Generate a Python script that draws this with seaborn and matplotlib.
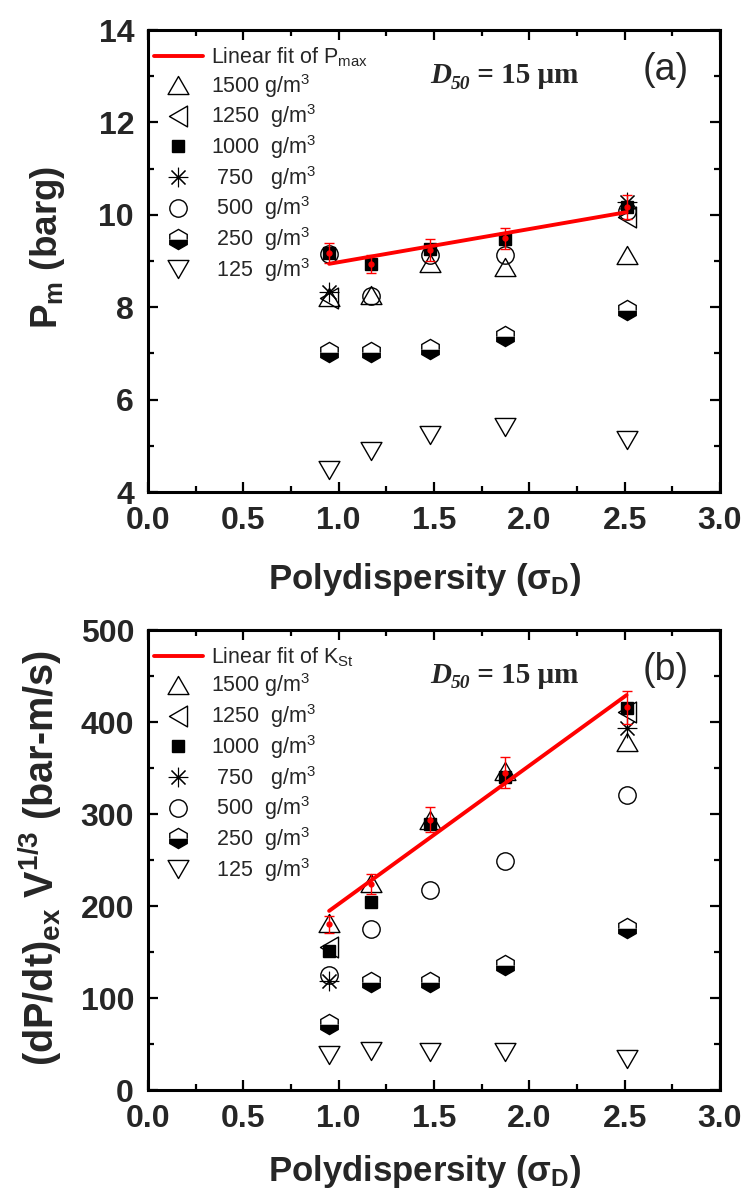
import numpy as np
import pandas as pd
import matplotlib
matplotlib.use("Agg")
import matplotlib.pyplot as plt
import seaborn as sns
from matplotlib.path import Path
from matplotlib.ticker import MultipleLocator, FormatStrFormatter

nan = np.nan

# ---------------- data ----------------
sigma = [0.95, 1.17, 1.48, 1.87, 2.51]
x_ticks = [0.0, 0.5, 1.0, 1.5, 2.0, 2.5, 3.0]
ticks_a = [4, 6, 8, 10, 12, 14]
ticks_b = [0, 100, 200, 300, 400, 500]

conc_labels = ["1500 g/m$^3$", "1250  g/m$^3$", "1000  g/m$^3$", " 750   g/m$^3$",
               " 500  g/m$^3$", " 250  g/m$^3$", " 125  g/m$^3$"]

# panel (a): Pm (barg)
pm_1500 = [8.22, 8.27, 8.95, 8.86, 9.13]
pm_1250 = [8.20, nan, nan, nan, 9.95]
pm_1000 = [9.17, 8.93, 9.26, 9.48, 10.17]
pm_750 = [8.32, nan, nan, nan, 10.28]
pm_500 = [9.15, 8.24, 9.13, 9.13, 10.09]
pm_250 = [7.02, 7.03, 7.10, 7.37, 7.93]
pm_125 = [4.47, 4.88, 5.24, 5.41, 5.12]
pmax_mean = [9.17, 8.94, 9.24, 9.49, 10.17]
pmax_err = [0.22, 0.20, 0.24, 0.23, 0.26]

# panel (b): (dP/dt)ex V^1/3 (bar-m/s)
k_1500 = [182, 225, 293, 347, 378]
k_1250 = [155, nan, nan, nan, 411]
k_1000 = [151, 204, 289, 340, 415]
k_750 = [119, nan, nan, nan, 394]
k_500 = [125, 175, 217, 249, 321]
k_250 = [72, 117, 117, 136, 176]
k_125 = [38, 42, 41, 41, 34]
kst_mean = [180, 224, 294, 345, 416]
kst_err = [9, 11, 14, 17, 18]

# ---------------- style ----------------
sns.set_theme(style="ticks")
plt.rcParams["font.family"] = ["Liberation Sans", "DejaVu Sans"]
plt.rcParams["mathtext.fontset"] = "custom"
plt.rcParams["mathtext.rm"] = "Liberation Sans"
plt.rcParams["mathtext.it"] = "Liberation Sans:italic"
plt.rcParams["mathtext.bf"] = "Liberation Sans:bold"


def poly(verts):
    v = list(verts) + [(0, 0)]
    codes = [Path.MOVETO] + [Path.LINETO] * (len(verts) - 1) + [Path.CLOSEPOLY]
    return Path(v, codes)


tri_up = poly([(-1, -0.866), (1, -0.866), (0, 0.866)])
tri_down = poly([(-1, 0.866), (1, 0.866), (0, -0.866)])
tri_left = poly([(-0.866, 0), (0.866, 1), (0.866, -1)])

marker_specs = [
    dict(marker=tri_up, markersize=15, markerfacecolor="none", markeredgewidth=1.0),
    dict(marker=tri_left, markersize=15, markerfacecolor="none", markeredgewidth=1.0),
    dict(marker="s", markersize=9, markerfacecolor="black", markeredgewidth=1.0),
    dict(marker=(8, 2, 0), markersize=14, markerfacecolor="none", markeredgewidth=0.8),
    dict(marker="o", markersize=12.5, markerfacecolor="none", markeredgewidth=1.0),
    dict(marker="h", markersize=14.5, markerfacecolor="black", fillstyle="bottom",
         markerfacecoloralt="white", markeredgewidth=1.0),
    dict(marker=tri_down, markersize=15, markerfacecolor="none", markeredgewidth=1.0),
]

fig = plt.figure(figsize=(7.45, 11.99), dpi=100)
ax_a = fig.add_axes([148 / 745, 1 - 492 / 1199, 572 / 745, 462 / 1199])
ax_b = fig.add_axes([148 / 745, 1 - 1090 / 1199, 572 / 745, 460 / 1199])

panels = [
    (ax_a, [pm_1500, pm_1250, pm_1000, pm_750, pm_500, pm_250, pm_125], pmax_mean, pmax_err,
     "Linear fit of P$_{\\mathregular{max}}$", (4, 14), ticks_a, 1, "(a)",
     "P$_{\\mathbf{m}}$ (barg)", 26.5, -0.175, 0.53),
    (ax_b, [k_1500, k_1250, k_1000, k_750, k_500, k_250, k_125], kst_mean, kst_err,
     "Linear fit of K$_{\\mathregular{St}}$", (0, 500), ticks_b, 50, "(b)",
     "(dP/dt)$_{\\mathbf{ex}}$ V$^{\\mathbf{1/3}}$ (bar-m/s)", 28.5, -0.19, 0.505),
]

for (ax, series, mean, err, fit_label, ylim, yt, yminor, tag, ylab, ylab_size,
     ylab_x, ylab_y) in panels:
    handles = []
    for vals, lab, spec in zip(series, conc_labels, marker_specs):
        df = pd.DataFrame({"x": sigma, "y": vals}).dropna()
        sns.lineplot(data=df, x="x", y="y", ax=ax, color="black", linestyle="",
                     markeredgecolor="black", errorbar=None, zorder=2, **spec)
        handles.append(ax.lines[-1])
    ax.errorbar(sigma, mean, yerr=err, fmt="o", color="red", ms=3.5, elinewidth=1.0,
                capsize=3.5, capthick=1.0, zorder=3)
    sns.regplot(x=np.array(sigma), y=np.array(mean), ax=ax, scatter=False, ci=None,
                truncate=True, color="red", line_kws=dict(lw=2.8, zorder=4))
    fit_line = ax.lines[-1]

    ax.set_xlim(0, 3)
    ax.set_ylim(*ylim)
    ax.set_xticks(x_ticks)
    ax.set_yticks(yt)
    ax.xaxis.set_minor_locator(MultipleLocator(0.25))
    ax.yaxis.set_minor_locator(MultipleLocator(yminor))
    ax.xaxis.set_major_formatter(FormatStrFormatter("%.1f"))
    ax.tick_params(which="both", direction="in", top=True, right=True, width=1.6,
                   color="black")
    ax.tick_params(which="major", length=7.5, labelsize=23, pad=10)
    ax.tick_params(which="minor", length=4)
    for lbl in ax.get_xticklabels() + ax.get_yticklabels():
        lbl.set_fontweight("bold")
    for sp in ax.spines.values():
        sp.set_linewidth(2.2)
        sp.set_color("black")

    ax.set_xlabel("Polydispersity (σ$_{\\mathbf{D}}$)", fontsize=25, fontweight="bold")
    ax.xaxis.label.set_va("center")
    ax.xaxis.set_label_coords(0.483, -0.19 if tag == "(a)" else -0.178)
    ax.set_ylabel(ylab, fontsize=ylab_size, fontweight="bold")
    ax.yaxis.label.set_va("center")
    ax.yaxis.set_label_coords(ylab_x, ylab_y)

    leg = ax.legend([fit_line] + handles, [fit_label] + conc_labels, loc="upper left",
                    bbox_to_anchor=(0.01, 0.967), frameon=False, fontsize=15.5,
                    handlelength=2.3, handletextpad=0.35, labelspacing=0.13,
                    borderpad=0.0, borderaxespad=0.0, numpoints=1)

    # D50 annotation
    t1 = ax.text(0.493, 0.885, "D", transform=ax.transAxes, fontsize=21,
                 family="Liberation Serif", style="italic", fontweight="bold",
                 va="baseline", ha="left")
    t2 = ax.annotate("50", xy=(1, 0), xycoords=t1, xytext=(0, -2.5),
                     textcoords="offset points", fontsize=14, family="Liberation Serif",
                     style="italic", fontweight="bold", va="bottom", ha="left")
    ax.annotate(" = 15 μm", xy=(1, 0), xycoords=(t2, t1), fontsize=21,
                family="Liberation Serif", fontweight="bold", va="bottom", ha="left")
    ax.text(0.905, 0.913, tag, transform=ax.transAxes, fontsize=27, ha="center",
            va="center")

fig.savefig("out.png", dpi=100)
